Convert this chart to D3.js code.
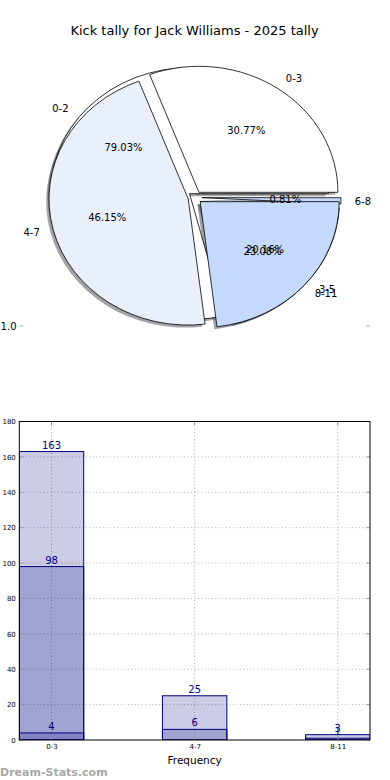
<!DOCTYPE html>
<html>
<head>
<meta charset="utf-8">
<script src="https://cdn.jsdelivr.net/npm/d3@7"></script>
<style>
  body { margin: 0; background: #fff; }
  svg { display: block; font-family: "DejaVu Sans", sans-serif; }
</style>
</head>
<body>
<div class="chart"></div>
<script>
// pie data (two pies drawn on the same axes)
var pieOneLabels = ["0-2", "3-5", "6-8"];
var pieOneValues = [98, 25, 1];
var pieTwoLabels = ["0-3", "4-7", "8-11"];
var pieTwoValues = [4, 6, 3];
var pieColors = ["#ffffff", "#e9f0fc", "#c5d9fc"];

// bar data
var barCats = ["0-3", "4-7", "8-11"];
var barTotal = [163, null, null];
var barFirst = [98, 25, 1];
var barSecond = [4, 6, 3];
var yTicks = [0, 20, 40, 60, 80, 100, 120, 140, 160, 180];

var W = 390, H = 780;

const svg = d3
  .select(".chart")
  .append("svg")
  .attr("width", W)
  .attr("height", H);

//title
svg.append("text")
  .attr("x", 194.5)
  .attr("y", 34.5)
  .attr("text-anchor", "middle")
  .style("font-size", "13px")
  .text("Kick tally for Jack Williams - 2025 tally");

// ---------- pie ----------
var cx = 195, cy = 197.5, rx = 139, ry = 126;
var explode = 0.05;

var pie = d3.pie().sort(null).startAngle(Math.PI / 2).endAngle(Math.PI / 2 - 2 * Math.PI);
var arc = d3.arc().innerRadius(0).outerRadius(1);

function slices(values, labels) {
  return pie(values).map(function (d, i) {
    var mid = (d.startAngle + d.endAngle) / 2;
    d.dx = Math.sin(mid);
    d.dy = -Math.cos(mid);
    d.label = labels[i];
    d.color = pieColors[i];
    d.pct = (100 * d.value / d3.sum(values)).toFixed(2) + "%";
    d.ox = cx + explode * rx * d.dx;
    d.oy = cy + explode * ry * d.dy;
    return d;
  });
}

var s1 = slices(pieOneValues, pieOneLabels);
var s2 = slices(pieTwoValues, pieTwoLabels);
var all = s1.concat(s2);

const pieG = svg.append("g");

// shadows below every wedge
pieG.selectAll("path.shadow")
  .data(all)
  .enter()
  .append("path")
  .attr("class", "shadow")
  .attr("transform", (d) => "translate(" + (d.ox - 0.02 * rx) + "," + (d.oy + 0.02 * ry) + ") scale(" + rx + "," + ry + ")")
  .attr("d", arc)
  .attr("fill", (d) => {
    var c = d3.rgb(d.color);
    return d3.rgb(c.r * 0.3, c.g * 0.3, c.b * 0.3);
  })
  .attr("fill-opacity", 0.5)
  .attr("stroke", "none");

pieG.selectAll("path.wedge")
  .data(all)
  .enter()
  .append("path")
  .attr("class", "wedge")
  .attr("transform", (d) => "translate(" + d.ox + "," + d.oy + ") scale(" + rx + "," + ry + ")")
  .attr("d", arc)
  .attr("fill", (d) => d.color)
  .attr("stroke", "#000")
  .attr("stroke-width", 0.8)
  .attr("vector-effect", "non-scaling-stroke");

// labels
pieG.selectAll("text.lab")
  .data(all)
  .enter()
  .append("text")
  .attr("x", (d) => cx + (1.1 + explode) * rx * d.dx)
  .attr("y", (d) => cy + (1.1 + explode) * ry * d.dy)
  .attr("dy", "0.35em")
  .attr("text-anchor", (d) => d.dx > 0 ? "start" : "end")
  .style("font-size", "10px")
  .text((d) => d.label);

pieG.selectAll("text.pct")
  .data(all)
  .enter()
  .append("text")
  .attr("x", (d) => cx + (0.6 + explode) * rx * d.dx)
  .attr("y", (d) => cy + (0.6 + explode) * ry * d.dy)
  .attr("dy", "0.35em")
  .attr("text-anchor", "middle")
  .style("font-size", "10px")
  .text((d) => d.pct);

// stray axis tick of the pie axes
svg.append("text").attr("x", 16.5).attr("y", 326).attr("dy", "0.35em")
  .attr("text-anchor", "end").style("font-size", "10px").text("1.0");
svg.append("line").attr("x1", 19.5).attr("x2", 23).attr("y1", 326).attr("y2", 326)
  .attr("stroke", "#aaa");
svg.append("line").attr("x1", 366).attr("x2", 370).attr("y1", 326).attr("y2", 326)
  .attr("stroke", "#aaa");

// ---------- bars ----------
var L = 19.3, R = 370, T = 421.5, B = 740;
var x = d3.scaleLinear().domain([-0.225, 2.225]).range([L, R]);
var y = d3.scaleLinear().domain([0, 180]).range([B, T]);
var bw = 0.45;

const barG = svg.append("g");

//grid
barG.selectAll("line.hgrid")
  .data(yTicks.slice(1, -1))
  .enter()
  .append("line")
  .attr("x1", L).attr("x2", R)
  .attr("y1", (d) => y(d)).attr("y2", (d) => y(d))
  .attr("stroke", "#b0b0b0")
  .attr("stroke-dasharray", "1,2.5");
barG.selectAll("line.vgrid")
  .data(barCats)
  .enter()
  .append("line")
  .attr("x1", (d, i) => x(i)).attr("x2", (d, i) => x(i))
  .attr("y1", T).attr("y2", B)
  .attr("stroke", "#b0b0b0")
  .attr("stroke-dasharray", "1,2.5");

var defs = svg.append("defs");
defs.append("clipPath").attr("id", "plot")
  .append("rect").attr("x", L).attr("y", T).attr("width", R - L).attr("height", B - T);

var series = [barTotal, barFirst, barSecond];
series.forEach(function (vals) {
  var data = vals.map((v, i) => ({ v: v, i: i })).filter((d) => d.v != null);
  barG.append("g").attr("clip-path", "url(#plot)")
    .selectAll("rect")
    .data(data)
    .enter()
    .append("rect")
    .attr("x", (d) => x(d.i - bw / 2))
    .attr("width", x(bw) - x(0))
    .attr("y", (d) => y(d.v))
    .attr("height", (d) => y(0) - y(d.v))
    .attr("fill", "navy")
    .attr("fill-opacity", 0.2)
    .attr("stroke", "navy")
    .attr("stroke-width", 1);
  barG.append("g")
    .selectAll("text")
    .data(data)
    .enter()
    .append("text")
    .attr("x", (d) => x(d.i))
    .attr("y", (d) => y(d.v) - 3)
    .attr("text-anchor", "middle")
    .attr("fill", "navy")
    .style("font-size", "10px")
    .text((d) => d.v);
});

// inward ticks
var tickCol = "#999";
yTicks.forEach(function (t) {
  barG.append("line").attr("x1", L).attr("x2", L + 3.5).attr("y1", y(t)).attr("y2", y(t)).attr("stroke", tickCol);
  barG.append("line").attr("x1", R).attr("x2", R - 3.5).attr("y1", y(t)).attr("y2", y(t)).attr("stroke", tickCol);
});
barCats.forEach(function (c, i) {
  barG.append("line").attr("x1", x(i)).attr("x2", x(i)).attr("y1", T).attr("y2", T + 3.5).attr("stroke", tickCol);
  barG.append("line").attr("x1", x(i)).attr("x2", x(i)).attr("y1", B).attr("y2", B - 3.5).attr("stroke", tickCol);
});

// frame
barG.append("rect")
  .attr("x", L).attr("y", T).attr("width", R - L).attr("height", B - T)
  .attr("fill", "none").attr("stroke", "#000").attr("stroke-width", 1);

// axis labels
var yAxis = d3.axisLeft(y).tickValues(yTicks).tickSize(0).tickPadding(3.5);
barG.append("g").attr("transform", "translate(" + L + ",0)").call(yAxis)
  .call((g) => g.select(".domain").remove())
  .selectAll("text").style("font-size", "7px").style("font-family", "DejaVu Sans").attr("fill", "#000");

var xAxis = d3.axisBottom(x).tickValues([0, 1, 2]).tickFormat((d) => barCats[d]).tickSize(0).tickPadding(4);
barG.append("g").attr("transform", "translate(0," + B + ")").call(xAxis)
  .call((g) => g.select(".domain").remove())
  .selectAll("text").style("font-size", "7px").style("font-family", "DejaVu Sans").attr("fill", "#000");

svg.append("text")
  .attr("x", (L + R) / 2)
  .attr("y", 764)
  .attr("text-anchor", "middle")
  .style("font-size", "10.5px")
  .text("Frequency");

//watermark
svg.append("text")
  .attr("x", 0)
  .attr("y", 775.5)
  .attr("fill", "#a8a8a8")
  .style("font-size", "11px")
  .style("font-weight", "bold")
  .text("Dream-Stats.com");
</script>
</body>
</html>
